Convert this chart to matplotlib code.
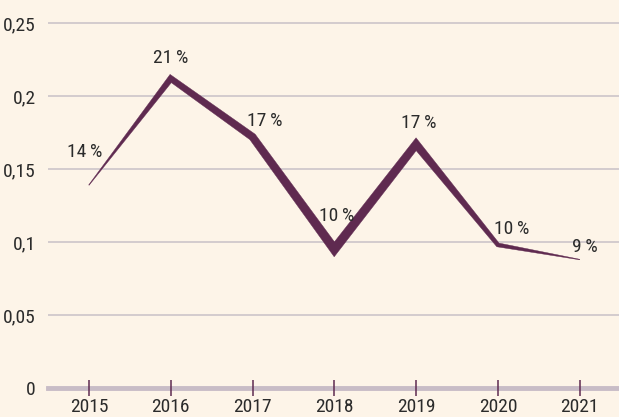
import numpy as np
import matplotlib
matplotlib.use("Agg")
import matplotlib.pyplot as plt
from matplotlib import font_manager
from matplotlib.patches import Polygon
from matplotlib.transforms import IdentityTransform

# data
years = [2015, 2016, 2017, 2018, 2019, 2020, 2021]
values = [0.139, 0.212, 0.172, 0.095, 0.167, 0.098, 0.088]
labels = ["14\u2009%", "21\u2009%", "17\u2009%", "10\u2009%", "17\u2009%", "10\u2009%", "9\u2009%"]
yticks = [0, 0.05, 0.1, 0.15, 0.2, 0.25]
ytick_labels = ["0", "0,05", "0,1", "0,15", "0,2", "0,25"]

bg = "#fdf4e8"
line_col = "#5f2a50"
grid_col = "#d0c8cc"
text_col = "#2b2b2b"

names = {f.name for f in font_manager.fontManager.ttflist}
family = "DejaVu Sans"
for cand in ["Liberation Sans Narrow", "Roboto Condensed", "DejaVu Sans Condensed"]:
    if cand in names:
        family = cand
        break
plt.rcParams["font.family"] = [family, "DejaVu Sans"]
fs = 14

fig = plt.figure(figsize=(6.19, 4.17), dpi=100, facecolor=bg)
ax = fig.add_axes([48 / 619, 29 / 417, 1 - 48 / 619, 1 - 29 / 417])
ax.set_facecolor(bg)
ax.set_xlim(2014.5, 2021.48)
ax.set_ylim(0, 0.2658)

for y in yticks[1:]:
    ax.axhline(y, color=grid_col, lw=1.3, zorder=1)
ax.axhline(0, color="#c8bcc6", lw=3.5, zorder=2, clip_on=False)

for s in ax.spines.values():
    s.set_visible(False)

ax.set_yticks(yticks)
ax.set_yticklabels(ytick_labels)
ax.set_xticks(years)
ax.set_xticklabels([str(y) for y in years])
ax.tick_params(axis="y", length=0, pad=9, labelsize=fs, labelcolor=text_col)
ax.tick_params(axis="x", direction="inout", length=11, width=1.1, color=line_col,
               pad=2, labelsize=fs, labelcolor=text_col)
for t in ax.xaxis.get_major_ticks():
    t.tick1line.set_zorder(5)
ax.set_axisbelow(False)

# tapered ribbon in pixel space
widths = [0.5, 6, 7.5, 9, 8, 4, 0.5]
pts = ax.transData.transform(np.column_stack([years, values]))
n = len(pts)
seg_norm = []
for i in range(n - 1):
    d = pts[i + 1] - pts[i]
    d = d / np.hypot(*d)
    seg_norm.append(np.array([-d[1], d[0]]))
left, right = [], []
for i in range(n):
    if i == 0:
        off = seg_norm[0] * widths[i] / 2
    elif i == n - 1:
        off = seg_norm[-1] * widths[i] / 2
    else:
        m = seg_norm[i - 1] + seg_norm[i]
        m = m / np.hypot(*m)
        cosa = np.dot(m, seg_norm[i])
        off = m * widths[i] / 2 / cosa
    left.append(pts[i] + off)
    right.append(pts[i] - off)
poly = np.vstack([left, right[::-1]])
ax.add_patch(Polygon(poly, closed=True, transform=IdentityTransform(),
                     facecolor=line_col, edgecolor=line_col, lw=0.3, zorder=4))

offsets = [(-4, 33), (0, 21), (12, 16), (2, 33), (3, 21), (14, 16), (5, 13)]
for x, v, lab, off in zip(years, values, labels, offsets):
    ax.annotate(lab, (x, v), xytext=off, textcoords="offset pixels",
                ha="center", va="center", fontsize=fs, color=text_col, zorder=6)

fig.savefig("out.png", dpi=100, facecolor=bg)
